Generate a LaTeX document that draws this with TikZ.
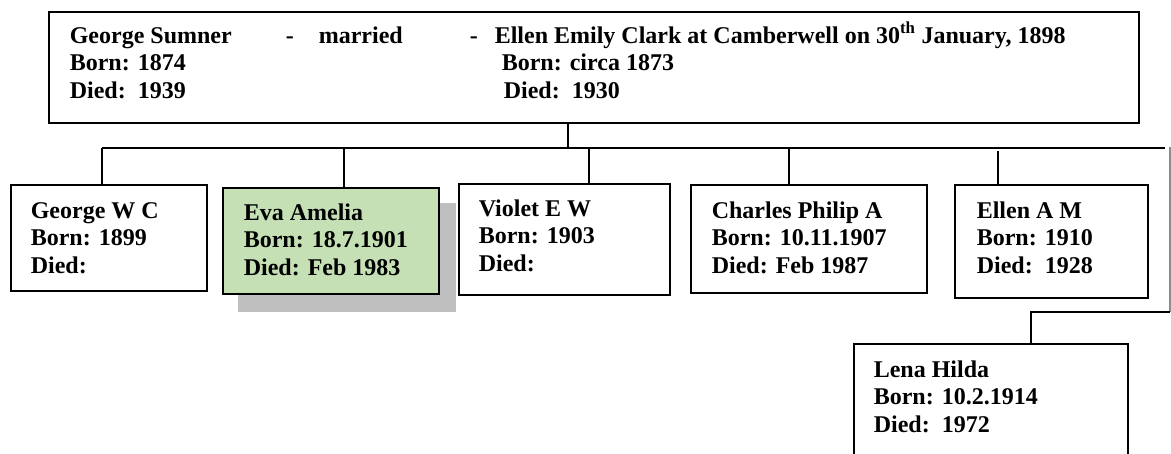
\documentclass[tikz,border=0pt]{standalone}
\usepackage{fontspec}
\setmainfont{Liberation Serif}
\definecolor{evagreen}{RGB}{197,224,180}
\definecolor{shadowgray}{RGB}{191,191,191}

\begin{document}
\begin{tikzpicture}[x=1pt, y=-1pt, line width=1.6pt,
		box/.style={draw, inner sep=0pt, anchor=north west},
		txt/.style={anchor=base west, inner sep=0pt, align=left,
			font=\bfseries\fontsize{24}{27.5}\selectfont}]
		\useasboundingbox (0,0) rectangle (1171,453);
		\clip (0,0) rectangle (1171,453);
		% parents (text nodes sit on the baseline of their last line)
		\node[box, minimum width=1090, minimum height=111] (parents) at (48,11) {};
		\node[txt] (husband) at (69,98) {George Sumner\\Born: 1874\\Died:\ \ 1939};
		\node[txt] (dash1) at (285,43) {-};
		\node[txt] (married) at (318,43) {married};
		\node[txt] (dash2) at (469,43) {-};
		\node[txt] (wife) at (494,98) {Ellen Emily Clark at Camberwell on 30\textsuperscript{th} January, 1898\\
			\hspace*{7pt}Born: circa 1873\\\hspace*{9pt}Died:\ \ 1930};
		% children
		\node[box, minimum width=196, minimum height=106] (george) at (10,184) {};
		\node[txt] (georgeT) at (30,273) {George W C\\Born: 1899\\Died:};
		\node[box, draw=none, fill=shadowgray, minimum width=218, minimum height=109] (shadow) at (237,202) {};
		\node[box, fill=evagreen, minimum width=216, minimum height=106] (eva) at (222,187) {};
		\node[txt] (evaT) at (243,275) {Eva Amelia\\Born: 18.7.1901\\Died: Feb 1983};
		\node[box, minimum width=211, minimum height=111] (violet) at (458,183) {};
		\node[txt] (violetT) at (478,271) {Violet E W\\Born: 1903\\Died:};
		\node[box, minimum width=236, minimum height=108] (charles) at (690,184) {};
		\node[txt] (charlesT) at (711,273) {Charles Philip A\\Born: 10.11.1907\\Died: Feb 1987};
		\node[box, minimum width=193, minimum height=113] (ellen) at (954,184) {};
		\node[txt] (ellenT) at (976,273) {Ellen A M\\Born: 1910\\Died:\ \ 1928};
		\node[box, minimum width=274, minimum height=130] (lena) at (853,343) {};
		\node[txt] (lenaT) at (873,432) {Lena Hilda\\Born: 10.2.1914\\Died:\ \ 1972};
		% lines
		\coordinate (trunk) at (568,148);
		\coordinate (gJ) at (102,148);
		\coordinate (eJ) at (344,148);
		\coordinate (vJ) at (589,148);
		\coordinate (cJ) at (789,148);
		\coordinate (aJ) at (998,151);
		\coordinate (barR) at (1165,148);
		\coordinate (side) at (1170,147);
		\coordinate (sideB) at (1170,312);
		\coordinate (lJ) at (1031,312);
		\draw (parents.south -| trunk) -- (trunk);
		\draw (gJ) -- (barR);
		\draw (gJ) -- (george.north -| gJ);
		\draw (eJ) -- (eva.north -| eJ);
		\draw (vJ) -- (violet.north -| vJ);
		\draw (cJ) -- (charles.north -| cJ);
		\draw (aJ) -- (ellen.north -| aJ);
		\draw[black!45] (side) -- (sideB);
		\draw (sideB) -- (lJ) -- (lena.north -| lJ);
\end{tikzpicture}
\end{document}
